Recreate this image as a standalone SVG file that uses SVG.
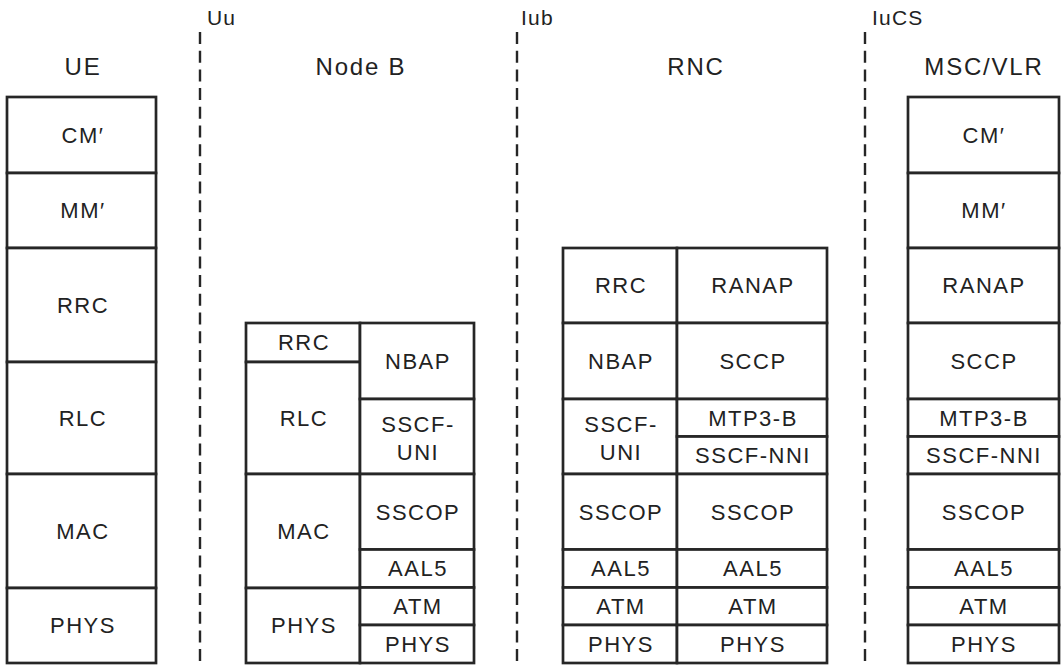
<svg xmlns="http://www.w3.org/2000/svg" width="1061" height="665" viewBox="0 0 1061 665">
  <style>
    .cell { fill: #ffffff; stroke: #262626; stroke-width: 2.7; }
    .t { font-family: "Liberation Sans", Arial, sans-serif; font-size: 22px; letter-spacing: 1.5px; fill: #222222; text-anchor: middle; }
    .hdr { font-family: "Liberation Sans", Arial, sans-serif; font-size: 24px; letter-spacing: 1.8px; fill: #222222; text-anchor: middle; }
    .if { font-family: "Liberation Sans", Arial, sans-serif; font-size: 21px; letter-spacing: 1.2px; fill: #222222; }
    .dash { stroke: #262626; stroke-width: 2.4; stroke-dasharray: 12 6.7; fill: none; }
  </style>

  <rect width="1061" height="665" fill="#ffffff"/>

  <!-- interface boundaries -->
  <g id="interfaces">
    <line class="dash" x1="200" y1="32" x2="200" y2="664"/>
    <line class="dash" x1="517" y1="32" x2="517" y2="664"/>
    <line class="dash" x1="865" y1="32" x2="865" y2="664"/>
    <text class="if" x="207" y="25">Uu</text>
    <text class="if" x="521" y="25">Iub</text>
    <text class="if" x="872" y="25">IuCS</text>
  </g>

  <!-- UE protocol stack -->
  <g id="ue">
    <text class="hdr" x="83" y="75">UE</text>
    <rect class="cell" x="7" y="97" width="149" height="76"/>
    <rect class="cell" x="7" y="173" width="149" height="75"/>
    <rect class="cell" x="7" y="248" width="149" height="114"/>
    <rect class="cell" x="7" y="362" width="149" height="112"/>
    <rect class="cell" x="7" y="474" width="149" height="114"/>
    <rect class="cell" x="7" y="588" width="149" height="75"/>
    <text class="t" x="83" y="143">CM′</text>
    <text class="t" x="83" y="218">MM′</text>
    <text class="t" x="83" y="313">RRC</text>
    <text class="t" x="83" y="426">RLC</text>
    <text class="t" x="83" y="539">MAC</text>
    <text class="t" x="83" y="633">PHYS</text>
  </g>

  <!-- Node B protocol stack -->
  <g id="node-b">
    <text class="hdr" x="361" y="75">Node B</text>
    <rect class="cell" x="246" y="323" width="114" height="39"/>
    <rect class="cell" x="246" y="362" width="114" height="112"/>
    <rect class="cell" x="246" y="474" width="114" height="114"/>
    <rect class="cell" x="246" y="588" width="114" height="75"/>
    <rect class="cell" x="360" y="323" width="114" height="76"/>
    <rect class="cell" x="360" y="399" width="114" height="75"/>
    <rect class="cell" x="360" y="474" width="114" height="75.5"/>
    <rect class="cell" x="360" y="549.5" width="114" height="38"/>
    <rect class="cell" x="360" y="587.5" width="114" height="37.5"/>
    <rect class="cell" x="360" y="625" width="114" height="38"/>
    <text class="t" x="304" y="350">RRC</text>
    <text class="t" x="304" y="426">RLC</text>
    <text class="t" x="304" y="539">MAC</text>
    <text class="t" x="304" y="633">PHYS</text>
    <text class="t" x="418" y="369">NBAP</text>
    <text class="t" x="418" y="432">SSCF-</text>
    <text class="t" x="418" y="460">UNI</text>
    <text class="t" x="418" y="520">SSCOP</text>
    <text class="t" x="418" y="576">AAL5</text>
    <text class="t" x="418" y="614">ATM</text>
    <text class="t" x="418" y="652">PHYS</text>
  </g>

  <!-- RNC protocol stack -->
  <g id="rnc">
    <text class="hdr" x="696" y="75">RNC</text>
    <rect class="cell" x="563" y="248" width="114" height="75"/>
    <rect class="cell" x="563" y="323" width="114" height="76"/>
    <rect class="cell" x="563" y="399" width="114" height="75"/>
    <rect class="cell" x="563" y="474" width="114" height="75.5"/>
    <rect class="cell" x="563" y="549.5" width="114" height="38"/>
    <rect class="cell" x="563" y="587.5" width="114" height="37.5"/>
    <rect class="cell" x="563" y="625" width="114" height="38"/>
    <rect class="cell" x="677" y="248" width="150" height="75"/>
    <rect class="cell" x="677" y="323" width="150" height="76"/>
    <rect class="cell" x="677" y="399" width="150" height="37.5"/>
    <rect class="cell" x="677" y="436.5" width="150" height="37.5"/>
    <rect class="cell" x="677" y="474" width="150" height="75.5"/>
    <rect class="cell" x="677" y="549.5" width="150" height="38"/>
    <rect class="cell" x="677" y="587.5" width="150" height="37.5"/>
    <rect class="cell" x="677" y="625" width="150" height="38"/>
    <text class="t" x="621" y="293">RRC</text>
    <text class="t" x="621" y="369">NBAP</text>
    <text class="t" x="621" y="432">SSCF-</text>
    <text class="t" x="621" y="460">UNI</text>
    <text class="t" x="621" y="520">SSCOP</text>
    <text class="t" x="621" y="576">AAL5</text>
    <text class="t" x="621" y="614">ATM</text>
    <text class="t" x="621" y="652">PHYS</text>
    <text class="t" x="753" y="293">RANAP</text>
    <text class="t" x="753" y="369">SCCP</text>
    <text class="t" x="753" y="426">MTP3-B</text>
    <text class="t" x="753" y="463">SSCF-NNI</text>
    <text class="t" x="753" y="520">SSCOP</text>
    <text class="t" x="753" y="576">AAL5</text>
    <text class="t" x="753" y="614">ATM</text>
    <text class="t" x="753" y="652">PHYS</text>
  </g>

  <!-- MSC/VLR protocol stack -->
  <g id="msc-vlr">
    <text class="hdr" x="984" y="75">MSC/VLR</text>
    <rect class="cell" x="908" y="97" width="151" height="76"/>
    <rect class="cell" x="908" y="173" width="151" height="75"/>
    <rect class="cell" x="908" y="248" width="151" height="75"/>
    <rect class="cell" x="908" y="323" width="151" height="76"/>
    <rect class="cell" x="908" y="399" width="151" height="37.5"/>
    <rect class="cell" x="908" y="436.5" width="151" height="37.5"/>
    <rect class="cell" x="908" y="474" width="151" height="75.5"/>
    <rect class="cell" x="908" y="549.5" width="151" height="38"/>
    <rect class="cell" x="908" y="587.5" width="151" height="37.5"/>
    <rect class="cell" x="908" y="625" width="151" height="38"/>
    <text class="t" x="984" y="143">CM′</text>
    <text class="t" x="984" y="218">MM′</text>
    <text class="t" x="984" y="293">RANAP</text>
    <text class="t" x="984" y="369">SCCP</text>
    <text class="t" x="984" y="426">MTP3-B</text>
    <text class="t" x="984" y="463">SSCF-NNI</text>
    <text class="t" x="984" y="520">SSCOP</text>
    <text class="t" x="984" y="576">AAL5</text>
    <text class="t" x="984" y="614">ATM</text>
    <text class="t" x="984" y="652">PHYS</text>
  </g>
</svg>
